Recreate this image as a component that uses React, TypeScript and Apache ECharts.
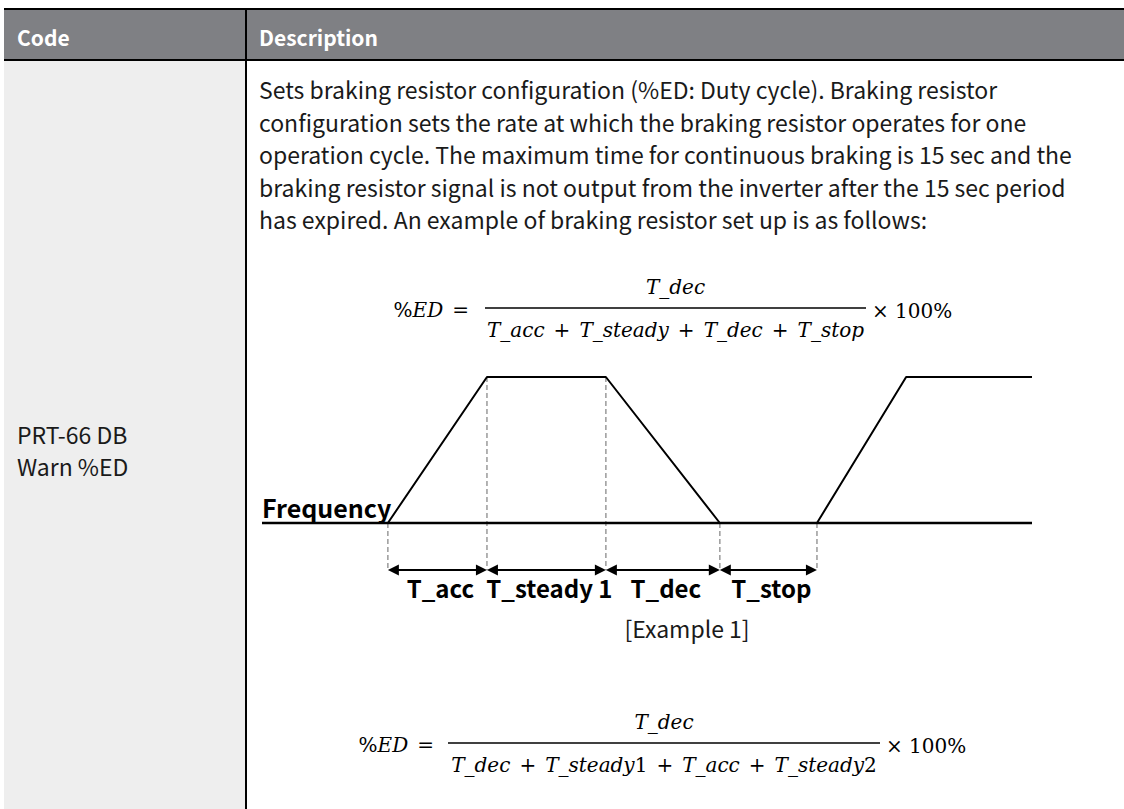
import React, { useEffect, useRef } from 'react';
import * as echarts from 'echarts';

const headerLabels = ['Code', 'Description'];
const codeLines = ['PRT-66 DB', 'Warn %ED'];
const descLines = [
  'Sets braking resistor configuration (%ED: Duty cycle). Braking resistor',
  'configuration sets the rate at which the braking resistor operates for one',
  'operation cycle. The maximum time for continuous braking is 15 sec and the',
  'braking resistor signal is not output from the inverter after the 15 sec period',
  'has expired. An example of braking resistor set up is as follows:',
];
// waveform (time in arbitrary units, frequency in Hz)
const timePoints = [0, 10, 22, 33.5, 43.3, 52.3, 65];
const freqValues = [0, 60, 60, 0, 0, 60, 60];
const timeMin = -12.7;
const markTimes = [0, 10, 22, 33.5, 43.3];
const segmentLabels = ['T_acc', 'T_steady 1', 'T_dec', 'T_stop'];
const arrowLevel = -19.3;
const axisName = 'Frequency';
const caption = '[Example 1]';
const formulaNumerator = 'T_dec';
const formula1Terms = ['T_acc', 'T_steady', 'T_dec', 'T_stop'];
const formula2Terms = ['T_dec', 'T_steady1', 'T_acc', 'T_steady2'];

const SANS = '"Noto Sans CJK KR", "Noto Sans", sans-serif';
const SERIF = '"DejaVu Serif", serif';

function mathTerm(t: string) {
  const m = t.match(/^(.*?)(\d*)$/);
  const base = m ? m[1] : t;
  const digits = m ? m[2] : '';
  return `{it|${base}}` + (digits ? `{up|${digits}}` : '');
}
function mathDen(terms: string[]) {
  return terms.map(mathTerm).join('{op|+}');
}
const mathRich = {
  it: { fontFamily: SERIF, fontStyle: 'italic', fontSize: 20, fill: '#000' },
  up: { fontFamily: SERIF, fontSize: 20, fill: '#000' },
  op: { fontFamily: SERIF, fontSize: 20, fill: '#000', padding: [0, 9] },
};

function freqAt(t: number) {
  const i = timePoints.indexOf(t);
  return i >= 0 ? freqValues[i] : 0;
}

function formula(lhsRight: number, lineX1: number, lineX2: number, lineY: number, terms: string[]) {
  const cx = (lineX1 + lineX2) / 2;
  return [
    { type: 'text', x: lhsRight, y: lineY + 2, style: { text: '{up|%}{it|ED}{op|=}', rich: mathRich, textAlign: 'right', textVerticalAlign: 'middle' } },
    { type: 'line', shape: { x1: lineX1, y1: lineY, x2: lineX2, y2: lineY }, style: { stroke: '#000', lineWidth: 1.6 } },
    { type: 'text', x: cx, y: lineY - 21, style: { text: mathTerm(formulaNumerator), rich: mathRich, textAlign: 'center', textVerticalAlign: 'middle' } },
    { type: 'text', x: cx, y: lineY + 22, style: { text: mathDen(terms), rich: mathRich, textAlign: 'center', textVerticalAlign: 'middle' } },
    { type: 'text', x: lineX2 + 6, y: lineY + 3, style: { text: '{up|× 100%}', rich: mathRich, textAlign: 'left', textVerticalAlign: 'middle' } },
  ];
}

export default function App() {
  const ref = useRef<HTMLDivElement>(null);
  useEffect(() => {
    if (!ref.current) return;
    const chart = echarts.init(ref.current, null, { renderer: 'svg' });
    const graphics: any[] = [
      { type: 'rect', shape: { x: 4, y: 61, width: 241, height: 760 }, style: { fill: '#eeeeee' }, z: -10 },
      { type: 'rect', shape: { x: 4, y: 10, width: 1120, height: 49 }, style: { fill: '#7f8084' }, z: -10 },
      { type: 'rect', shape: { x: 4, y: 8, width: 1120, height: 2 }, style: { fill: '#000' }, z: -9 },
      { type: 'rect', shape: { x: 4, y: 59, width: 1120, height: 2 }, style: { fill: '#000' }, z: -9 },
      { type: 'rect', shape: { x: 245, y: 10, width: 2, height: 800 }, style: { fill: '#000' }, z: -9 },
      { type: 'text', x: 17, y: 37, style: { text: headerLabels[0], font: `bold 21px ${SANS}`, fill: '#fff', textVerticalAlign: 'middle' } },
      { type: 'text', x: 259, y: 37, style: { text: headerLabels[1], font: `bold 21px ${SANS}`, fill: '#fff', textVerticalAlign: 'middle' } },
      ...codeLines.map((t, i) => ({ type: 'text', x: 17, y: 434 + i * 32, style: { text: t, font: `23px ${SANS}`, fill: '#1a1a1a', textVerticalAlign: 'middle' } })),
      ...descLines.map((t, i) => ({ type: 'text', x: 259, y: 89 + i * 32.5, style: { text: t, font: `23px ${SANS}`, fill: '#1a1a1a', textVerticalAlign: 'middle' } })),
      ...formula(478, 485, 866, 308, formula1Terms),
      ...formula(443, 448, 880, 743, formula2Terms),
      { type: 'text', x: 262, y: 507, style: { text: axisName, font: `bold 25px ${SANS}`, fill: '#000', textVerticalAlign: 'middle' } },
      { type: 'text', x: 687, y: 628, style: { text: caption, font: `23px ${SANS}`, fill: '#1a1a1a', textAlign: 'center', textVerticalAlign: 'middle' } },
    ];

    const arrowData = segmentLabels.map((name, i) => [markTimes[i], markTimes[i + 1], arrowLevel, name]);
    const dashData = markTimes.map((t) => [t, freqAt(t), arrowLevel]);

    chart.setOption({
      animation: false,
      graphic: graphics,
      grid: { left: 262, right: 92, top: 377, bottom: 809 - (377 + 146 * 80 / 60) },
      xAxis: { type: 'value', min: timeMin, max: 65, show: false },
      yAxis: { type: 'value', min: -20, max: 60, show: false },
      series: [
        {
          type: 'line',
          data: [[timeMin, 0], [timePoints[timePoints.length - 1], 0]],
          symbol: 'none',
          lineStyle: { color: '#000', width: 2.5 },
          z: 3,
        },
        {
          type: 'line',
          data: timePoints.map((t, i) => [t, freqValues[i]]),
          symbol: 'none',
          lineStyle: { color: '#000', width: 2 },
          z: 4,
        },
        {
          type: 'custom',
          data: dashData,
          encode: { x: 0, y: [1, 2] },
          renderItem: (params: any, api: any) => {
            const t = api.value(0);
            const a = api.coord([t, api.value(1)]);
            const b = api.coord([t, api.value(2)]);
            return {
              type: 'line',
              shape: { x1: a[0], y1: a[1], x2: b[0], y2: b[1] },
              style: { stroke: '#9a9a9a', lineWidth: 1.5, lineDash: [5, 3] },
            };
          },
          z: 2,
        },
        {
          type: 'custom',
          data: arrowData,
          encode: { x: [0, 1], y: 2 },
          renderItem: (params: any, api: any) => {
            const p0 = api.coord([api.value(0), api.value(2)]);
            const p1 = api.coord([api.value(1), api.value(2)]);
            const name = arrowData[params.dataIndex][3] as string;
            const hl = 11, hw = 5.5;
            return {
              type: 'group',
              children: [
                { type: 'line', shape: { x1: p0[0] + 4, y1: p0[1], x2: p1[0] - 4, y2: p1[1] }, style: { stroke: '#000', lineWidth: 2 } },
                { type: 'polygon', shape: { points: [[p0[0], p0[1]], [p0[0] + hl, p0[1] - hw], [p0[0] + hl, p0[1] + hw]] }, style: { fill: '#000' } },
                { type: 'polygon', shape: { points: [[p1[0], p1[1]], [p1[0] - hl, p1[1] - hw], [p1[0] - hl, p1[1] + hw]] }, style: { fill: '#000' } },
                { type: 'text', x: (p0[0] + p1[0]) / 2 + 3, y: p0[1] + 18, style: { text: name, font: `bold 24px ${SANS}`, fill: '#000', textAlign: 'center', textVerticalAlign: 'middle' } },
              ],
            };
          },
          z: 5,
        },
      ],
    });
    return () => chart.dispose();
  }, []);
  return <div ref={ref} style={{ position: 'absolute', left: 0, top: 0, width: 1124, height: 809, background: '#fff' }} />;
}
